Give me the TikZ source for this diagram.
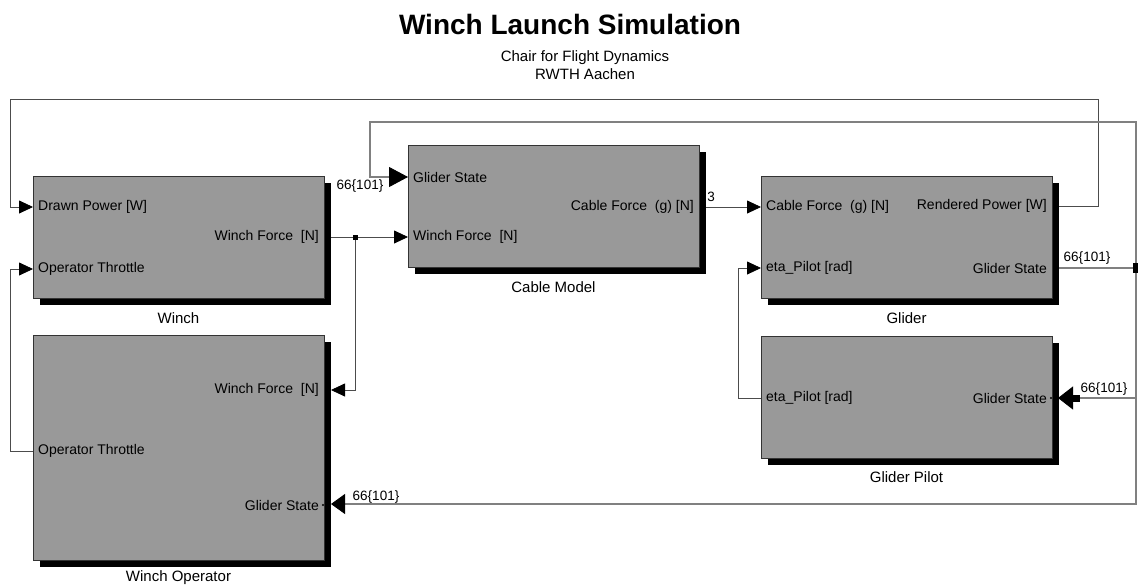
\documentclass[tikz,border=0pt]{standalone}
\usepackage{fontspec}
\setmainfont{Liberation Sans}
\usetikzlibrary{arrows.meta,shadows,calc}
\begin{document}
\begin{tikzpicture}[x=1pt,y=-1pt,
  blockbox/.style={draw=black!80, fill=black!40, line width=0.8pt, inner sep=0pt,
    drop shadow={shadow xshift=6.5pt, shadow yshift=-6.5pt, opacity=1, fill=black}},
  portin/.style={font=\fontsize{14}{16}\selectfont, anchor=west, inner sep=0pt},
  portout/.style={font=\fontsize{14}{16}\selectfont, anchor=east, inner sep=0pt},
  blockname/.style={font=\fontsize{15}{17}\selectfont, inner sep=0pt},
  siglabel/.style={font=\fontsize{13.5}{15}\selectfont, inner sep=0pt},
  thinwire/.style={draw=black!70, line width=0.8pt},
  thinarrow/.style={thinwire, -{Triangle[length=14pt,width=13pt,color=black]}},
  buswire/.style={draw=black!85, line width=0.9pt, double=black!50, double distance=1.1pt},
  busarrow/.style={buswire, -{Triangle[length=19pt,width=20pt,color=black]}},
]
\useasboundingbox (0,0) rectangle (1138,587);

% Title
\node[font=\bfseries\fontsize{28}{32}\selectfont, inner sep=0pt] (title) at (570,24) {Winch Launch Simulation};
\node[font=\fontsize{15}{18}\selectfont, inner sep=0pt, align=center] (subtitle) at (585,65) {Chair for Flight Dynamics\\RWTH Aachen};

% Blocks
\node[blockbox, minimum width=291pt, minimum height=122pt] (winch) at (178.5,237) {};
\node[blockbox, minimum width=291pt, minimum height=225pt] (wop) at (178.5,447.5) {};
\node[blockbox, minimum width=291pt, minimum height=122pt] (cable) at (553.5,206) {};
\node[blockbox, minimum width=291pt, minimum height=122pt] (glider) at (906.5,237) {};
\node[blockbox, minimum width=291pt, minimum height=122pt] (pilot) at (906.5,397) {};

% Block names
\node[blockname] (winchname) at (178.5,318) {Winch};
\node[blockname] (wopname) at (178.5,578) {Winch Operator};
\node[blockname] (cablename) at (553.5,287) {Cable Model};
\node[blockname] (glidername) at (906.5,318) {Glider};
\node[blockname] (pilotname) at (906.5,477) {Glider Pilot};

% Port labels
\node[portin] (wdp) at (38,207) {Drawn Power [W]};
\node[portin] (wot) at (38,269) {Operator Throttle};
\node[portout] (wwf) at (319,237) {Winch Force\ \ [N]};
\node[portout] (owf) at (319,390) {Winch Force\ \ [N]};
\node[portin] (oot) at (38,451) {Operator Throttle};
\node[portout] (ogs) at (319,505) {Glider State};
\node[portin] (cgs) at (413,177) {Glider State};
\node[portin] (cwf) at (413,237) {Winch Force\ \ [N]};
\node[portout] (ccf) at (694,207) {Cable Force\ \ (g) [N]};
\node[portin] (gcf) at (766,207) {Cable Force\ \ (g) [N]};
\node[portin] (get) at (766,268) {eta\_Pilot [rad]};
\node[portout] (grp) at (1047,206) {Rendered Power [W]};
\node[portout] (ggs) at (1047,268) {Glider State};
\node[portin] (pet) at (766,398) {eta\_Pilot\ [rad]};
\node[portout] (pgs) at (1047,398) {Glider State};

% Port coordinates
\coordinate (winch-in1) at (33,207);
\coordinate (winch-in2) at (33,269);
\coordinate (winch-out) at (331,237);
\coordinate (wop-in1) at (331,390);
\coordinate (wop-out) at (33,451);
\coordinate (wop-in2) at (331,504);
\coordinate (cable-in1) at (408,177);
\coordinate (cable-in2) at (408,237);
\coordinate (cable-out) at (706,207);
\coordinate (glider-in1) at (761,207);
\coordinate (glider-in2) at (761,268);
\coordinate (glider-out1) at (1059,206);
\coordinate (glider-out2) at (1059,268);
\coordinate (pilot-out) at (761,398);
\coordinate (pilot-in) at (1058,398);

% Routing points
\coordinate (br1) at (355,237);
\coordinate (br2) at (1136,268);

% Thin wires
\draw[thinarrow] (glider-out1) -- (1098,206) -- (1098,99) -- (10,99) -- (10,207) -- (winch-in1);
\draw[thinarrow] (winch-out) -- (cable-in2);
\draw[thinarrow] (br1) |- (wop-in1);
\draw[thinarrow] (cable-out) -- (glider-in1);
\draw[thinarrow] (pilot-out) -- (738,398) -- (738,268) -- (glider-in2);
\draw[thinarrow] (wop-out) -- (10,451) -- (10,269) -- (winch-in2);
\fill[black] ($(br1)+(-2.5,-2.5)$) rectangle ($(br1)+(2.5,2.5)$);

% Bus wires
\draw[buswire] (glider-out2) -- (br2);
\draw[busarrow] (br2) -- (1136,122) -- (370,122) -- (370,177) -- (cable-in1);
\draw[buswire, -{Triangle[length=15pt,width=23pt,color=black]}] (br2) -- (1136,398) -- (pilot-in);
\fill[black] (1071,394.5) rectangle (1080,401.5);
\draw[buswire, -{Triangle[length=14pt,width=20pt,color=black]}] (1136,398) -- (1136,504) -- (wop-in2);
\fill[black] (1133,263) rectangle (1139,273);
\fill[black] (1051,398) circle (1.2pt);
\fill[black] (323,505) circle (1.2pt);

% Signal labels
\node[siglabel] (l1) at (360,186) {66\{101\}};
\node[siglabel] (l2) at (1087,258) {66\{101\}};
\node[siglabel] (l3) at (1104,389) {66\{101\}};
\node[siglabel] (l4) at (376,497) {66\{101\}};
\node[siglabel] (l5) at (711,197) {3};
\end{tikzpicture}
\end{document}
